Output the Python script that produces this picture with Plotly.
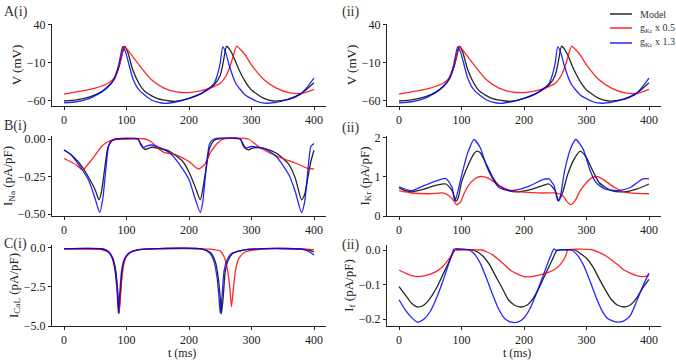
import plotly.graph_objects as go

# ---------------- data ----------------
# A: membrane voltage V (mV)
tV_model = [0, 20, 40, 50, 60, 70, 80, 88, 93, 97, 102, 110, 120, 130, 150, 170, 180, 200, 220, 240, 250, 255, 260, 265, 270, 280, 290, 300, 320, 335, 360, 380, 400]
V_model = [-60, -58.5, -55, -52, -48, -42, -32, -15, 2, 12, 4, -19, -37, -48, -57, -60, -60.3, -56.5, -50, -39, -26, -8, 12, 8, 0.5, -19, -34.5, -45.5, -56.5, -60, -58, -50, -36]
tV_low = [0, 20, 50, 70, 80, 88, 92, 96, 102, 110, 120, 140, 160, 180, 200, 220, 240, 250, 260, 265, 270, 276, 282, 290, 300, 320, 340, 360, 380, 400]
V_low = [-51, -48, -43, -37, -30, -15, -3, 12, 7, -1.7, -12.6, -32, -43, -48, -49, -46.4, -41, -36.8, -25.8, -16, -3, 12, 8, 0.5, -12.6, -32, -43, -49, -50, -44.6]
tV_high = [0, 20, 40, 50, 60, 70, 80, 87, 91, 94, 99, 110, 120, 140, 160, 180, 200, 220, 240, 246, 250, 254, 259, 265, 275, 290, 310, 325, 350, 380, 400]
V_high = [-62.5, -61, -57, -53, -48, -41, -31, -14, 2, 11.5, 3, -30, -45.5, -58.7, -63, -61, -56.5, -50, -37, -24, -10, 11.5, 3, -15, -37, -52, -61, -63, -60, -50, -30]

# B(i): I_Na (pA/pF)
tNa_model = [0, 10, 20, 30, 40, 50, 56, 60, 65, 70, 75, 80, 90, 118, 122, 126, 130, 135, 140, 150, 170, 190, 200, 210, 218, 223, 228, 233, 240, 245, 282, 286, 290, 295, 300, 310, 320, 340, 360, 370, 380, 385, 390, 395, 400]
Na_model = [-0.073, -0.1, -0.14, -0.19, -0.26, -0.34, -0.405, -0.35, -0.2, -0.06, -0.015, -0.004, 0, 0, -0.025, -0.055, -0.07, -0.062, -0.055, -0.06, -0.085, -0.15, -0.22, -0.32, -0.405, -0.31, -0.18, -0.06, -0.01, 0, 0, -0.03, -0.06, -0.073, -0.062, -0.057, -0.062, -0.095, -0.17, -0.26, -0.405, -0.37, -0.26, -0.15, -0.075]
tNa_low = [0, 10, 20, 30, 40, 50, 60, 70, 80, 90, 130, 140, 150, 160, 180, 200, 215, 225, 235, 245, 255, 295, 305, 315, 330, 350, 370, 390, 400]
Na_low = [-0.13, -0.15, -0.173, -0.207, -0.16, -0.107, -0.05, -0.018, -0.004, 0, 0, -0.02, -0.062, -0.089, -0.107, -0.15, -0.2, -0.17, -0.085, -0.03, 0, 0, -0.03, -0.062, -0.095, -0.13, -0.16, -0.196, -0.2]
tNa_high = [0, 10, 20, 30, 40, 50, 57, 62, 67, 72, 80, 118, 123, 127, 132, 140, 150, 170, 190, 200, 210, 218, 222, 228, 233, 240, 282, 286, 290, 295, 300, 320, 340, 360, 370, 380, 385, 390, 395, 400]
Na_high = [-0.073, -0.1, -0.15, -0.21, -0.28, -0.4, -0.49, -0.4, -0.2, -0.04, -0.002, 0, -0.04, -0.058, -0.047, -0.04, -0.05, -0.095, -0.2, -0.27, -0.4, -0.49, -0.42, -0.17, -0.03, 0, 0, -0.04, -0.062, -0.055, -0.05, -0.062, -0.118, -0.24, -0.35, -0.49, -0.42, -0.22, -0.05, -0.03]

# B(ii): I_Kr (pA/pF)
tKr_model = [0, 10, 20, 40, 60, 75, 85, 91, 95, 100, 110, 120, 125, 130, 140, 150, 160, 175, 190, 210, 230, 240, 250, 255, 262, 270, 280, 290, 300, 310, 320, 340, 360, 380, 400]
Kr_model = [0.72, 0.65, 0.62, 0.69, 0.79, 0.82, 0.65, 0.38, 0.48, 0.86, 1.28, 1.6, 1.66, 1.62, 1.32, 0.99, 0.78, 0.65, 0.62, 0.675, 0.78, 0.82, 0.65, 0.38, 0.61, 1.07, 1.45, 1.66, 1.49, 1.16, 0.86, 0.65, 0.62, 0.69, 0.82]
tKr_low = [0, 20, 50, 70, 80, 87, 92, 98, 105, 115, 125, 135, 145, 160, 180, 200, 230, 250, 262, 270, 275, 282, 290, 300, 310, 318, 330, 345, 360, 380, 400]
Kr_low = [0.65, 0.59, 0.57, 0.59, 0.52, 0.4, 0.29, 0.35, 0.61, 0.86, 0.99, 1.01, 0.95, 0.78, 0.65, 0.61, 0.59, 0.59, 0.52, 0.35, 0.29, 0.4, 0.65, 0.86, 0.99, 1.01, 0.9, 0.73, 0.62, 0.58, 0.57]
tKr_high = [0, 20, 40, 60, 75, 85, 89, 92, 100, 110, 120, 130, 140, 150, 160, 175, 190, 210, 230, 240, 248, 254, 258, 265, 275, 283, 295, 305, 315, 330, 350, 370, 390, 400]
Kr_high = [0.75, 0.65, 0.78, 0.9, 0.96, 0.73, 0.4, 0.5, 1.03, 1.62, 1.96, 1.75, 1.28, 0.95, 0.73, 0.65, 0.675, 0.78, 0.93, 0.95, 0.78, 0.4, 0.5, 1.16, 1.75, 1.96, 1.7, 1.2, 0.86, 0.69, 0.65, 0.73, 0.95, 0.95]

# C(i): I_CaL (pA/pF)
tCaL_model = [0, 60, 70, 78, 83, 86, 88, 90, 93, 97, 105, 120, 150, 220, 235, 242, 247, 250, 252, 255, 258, 263, 270, 285, 320, 380, 395, 400]
CaL_model = [-0.04, -0.05, -0.2, -0.65, -1.5, -2.8, -4.2, -3.0, -1.5, -0.75, -0.32, -0.1, -0.04, -0.06, -0.32, -0.86, -1.94, -3.2, -4.2, -3.0, -1.5, -0.75, -0.36, -0.15, -0.04, -0.06, -0.17, -0.26]
tCaL_low = [0, 60, 70, 75, 80, 85, 88, 92, 96, 100, 110, 130, 200, 240, 250, 258, 262, 265, 268, 271, 275, 280, 290, 310, 360, 400]
CaL_low = [-0.08, -0.1, -0.25, -0.43, -0.97, -2.6, -4.2, -2.2, -0.97, -0.54, -0.2, -0.08, -0.04, -0.1, -0.2, -0.75, -1.5, -2.4, -3.77, -2.6, -1.3, -0.65, -0.26, -0.1, -0.04, -0.1]
tCaL_high = [0, 60, 70, 77, 82, 85, 87, 89, 92, 96, 104, 120, 150, 220, 233, 240, 245, 248, 250, 253, 256, 261, 268, 285, 320, 380, 395, 400]
CaL_high = [-0.04, -0.05, -0.2, -0.65, -1.5, -2.8, -4.2, -3.0, -1.5, -0.75, -0.32, -0.1, -0.04, -0.06, -0.32, -0.86, -1.94, -3.2, -4.2, -3.0, -1.5, -0.75, -0.36, -0.15, -0.04, -0.08, -0.3, -0.47]

# C(ii): I_f (pA/pF)
tf_model = [0, 10, 20, 30, 40, 50, 60, 70, 80, 88, 90, 118, 125, 135, 145, 155, 165, 175, 185, 195, 205, 215, 225, 235, 245, 252, 255, 282, 290, 300, 310, 320, 330, 340, 350, 360, 370, 380, 390, 400]
f_model = [-0.106, -0.13, -0.154, -0.165, -0.159, -0.139, -0.11, -0.072, -0.034, -0.003, 0, 0, -0.005, -0.019, -0.043, -0.077, -0.11, -0.144, -0.16, -0.165, -0.159, -0.139, -0.106, -0.067, -0.029, -0.003, 0, 0, -0.01, -0.024, -0.048, -0.082, -0.115, -0.144, -0.16, -0.165, -0.159, -0.139, -0.11, -0.085]
tf_low = [0, 10, 20, 30, 40, 50, 60, 70, 80, 88, 90, 132, 140, 150, 160, 170, 180, 190, 200, 210, 220, 230, 240, 250, 260, 267, 270, 310, 320, 330, 340, 350, 360, 370, 380, 390, 400]
f_low = [-0.058, -0.067, -0.074, -0.077, -0.075, -0.07, -0.062, -0.048, -0.026, -0.003, 0, 0, -0.005, -0.014, -0.029, -0.045, -0.061, -0.07, -0.077, -0.077, -0.074, -0.07, -0.064, -0.055, -0.038, -0.016, 0, 0, -0.007, -0.016, -0.029, -0.043, -0.058, -0.067, -0.074, -0.077, -0.074]
tf_high = [0, 10, 20, 30, 40, 50, 60, 70, 80, 86, 88, 112, 120, 130, 140, 150, 160, 170, 180, 190, 200, 210, 220, 230, 240, 248, 251, 276, 285, 295, 305, 315, 325, 335, 350, 360, 370, 380, 390, 400]
f_high = [-0.144, -0.173, -0.195, -0.209, -0.2, -0.178, -0.139, -0.091, -0.038, -0.005, 0.003, 0, -0.01, -0.038, -0.082, -0.13, -0.173, -0.2, -0.209, -0.209, -0.197, -0.168, -0.125, -0.077, -0.029, 0.003, 0, 0, -0.014, -0.043, -0.087, -0.135, -0.176, -0.2, -0.209, -0.205, -0.19, -0.149, -0.105, -0.067]

series_names = ["Model", "g<sub>Kr</sub> x 0.5", "g<sub>Kr</sub> x 1.3"]
series_colors = ["rgba(0,0,0,0.85)", "rgba(255,0,0,0.85)", "rgba(0,0,255,0.85)"]

panels = [
    (0, 0, [(tV_model, V_model), (tV_low, V_low), (tV_high, V_high)], "V (mV)", [-66.6, 41.3], [-60, -10, 40], "d"),
    (0, 1, [(tV_model, V_model), (tV_low, V_low), (tV_high, V_high)], "V (mV)", [-66.6, 41.3], [-60, -10, 40], "d"),
    (1, 0, [(tNa_model, Na_model), (tNa_low, Na_low), (tNa_high, Na_high)], "I<sub>Na</sub> (pA/pF)", [-0.513, 0.02], [-0.5, -0.25, 0], ".2f"),
    (1, 1, [(tKr_model, Kr_model), (tKr_low, Kr_low), (tKr_high, Kr_high)], "I<sub>Kr</sub> (pA/pF)", [0, 2.05], [0, 1, 2], "d"),
    (2, 0, [(tCaL_model, CaL_model), (tCaL_low, CaL_low), (tCaL_high, CaL_high)], "I<sub>CaL</sub> (pA/pF)", [-5.0, 0.19], [-5, -2.5, 0], ".1f"),
    (2, 1, [(tf_model, f_model), (tf_low, f_low), (tf_high, f_high)], "I<sub>f</sub> (pA/pF)", [-0.22, 0.0145], [-0.2, -0.1, 0], ".1f"),
]

W, H = 676, 362
col_x = [(52, 326), (387, 661)]
row_y = [(24, 106), (136, 216), (245, 326)]

FONT = "Liberation Serif"
TXT = "#222"
fig = go.Figure()

for i, (r, c, data, ylab, yr, tv, tf) in enumerate(panels):
    ax = i + 1
    xa = "x" if ax == 1 else f"x{ax}"
    ya = "y" if ax == 1 else f"y{ax}"
    for k, (tt, yy) in enumerate(data):
        fig.add_trace(go.Scatter(
            x=tt, y=yy, mode="lines", xaxis=xa, yaxis=ya,
            line=dict(color=series_colors[k], width=1.3, shape="spline", smoothing=0.6),
            name=series_names[k], showlegend=False,
        ))
    x0, x1 = col_x[c]
    y0, y1 = row_y[r]
    common = dict(showline=True, linecolor="#222", linewidth=1, ticks="outside", ticklen=3,
                  tickcolor="#222", showgrid=False, zeroline=False,
                  tickfont=dict(family=FONT, size=12, color=TXT), automargin=False)
    xkey = "xaxis" if ax == 1 else f"xaxis{ax}"
    ykey = "yaxis" if ax == 1 else f"yaxis{ax}"
    xdict = dict(common, domain=[x0 / W, x1 / W], range=[-19.2, 419.2],
                 tickvals=[0, 100, 200, 300, 400], anchor=ya)
    ydict = dict(common, domain=[1 - y1 / H, 1 - y0 / H], range=yr, tickvals=tv,
                 tickformat=tf, anchor=xa,
                 title=dict(text=ylab, font=dict(family=FONT, size=13, color=TXT), standoff=2))
    fig.update_layout(**{xkey: xdict, ykey: ydict})

# x-axis titles under bottom row
for cx in (182, 517):
    fig.add_annotation(text="t (ms)", x=cx / W, y=1 - 353 / H, xref="paper", yref="paper",
                       xanchor="center", yanchor="middle", showarrow=False,
                       font=dict(family=FONT, size=12, color=TXT))

labels = [("A(i)", 2, 12), ("(ii)", 340, 12), ("B(i)", 2, 126), ("(ii)", 340, 128), ("C(i)", 2, 244), ("(ii)", 340, 245)]
for txt, px, py in labels:
    fig.add_annotation(text=txt, x=px / W, y=1 - py / H, xref="paper", yref="paper",
                       xanchor="left", yanchor="middle", showarrow=False,
                       font=dict(family=FONT, size=14, color="#333"))

# legend (drawn manually to match compact spacing)
leg_y = [14, 28, 43]
for k in range(3):
    py = leg_y[k]
    fig.add_shape(type="line", xref="paper", yref="paper",
                  x0=610 / W, x1=632 / W, y0=1 - py / H, y1=1 - py / H,
                  line=dict(color=series_colors[k], width=1.5))
    fig.add_annotation(text=series_names[k], x=638 / W, y=1 - py / H, xref="paper", yref="paper",
                       xanchor="left", yanchor="middle", showarrow=False,
                       font=dict(family=FONT, size=10, color="#333"))

fig.update_layout(
    width=W, height=H, margin=dict(l=0, r=0, t=0, b=0),
    paper_bgcolor="white", plot_bgcolor="white",
    showlegend=False,
)

fig.write_html("out.html", config={"displayModeBar": False},
               post_script="document.body.style.margin='0';document.body.style.overflow='hidden';")
